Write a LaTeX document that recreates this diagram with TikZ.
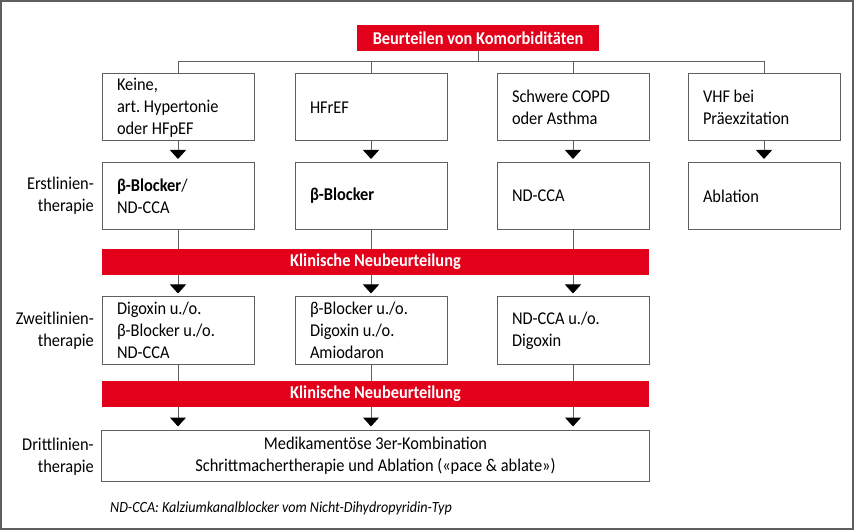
\documentclass[tikz,border=0pt]{standalone}
\usepackage{fontspec}
\setmainfont{Carlito}[FakeStretch=0.91]
\usetikzlibrary{arrows.meta}
\definecolor{klinred}{RGB}{226,0,26}
\definecolor{boxgray}{RGB}{95,95,95}
\frenchspacing

\begin{document}
\begin{tikzpicture}[x=1bp,y=-1bp,
    font=\fontsize{18bp}{22bp}\selectfont,
    every node/.style={execute at begin node={\spaceskip=0pt\xspaceskip=0pt\relax}},
    box/.style={draw=boxgray, line width=1bp, inner xsep=15bp, inner ysep=0pt,
        text width=122bp, minimum height=67bp, align=left},
    bar/.style={fill=klinred, text=white, inner sep=0pt, minimum height=26bp,
        font=\fontsize{18bp}{22bp}\selectfont\bfseries},
    link/.style={draw=boxgray, line width=1bp},
    tip/.style={link, -{Triangle[width=16bp,length=9bp,black]}, shorten >=3bp},
    rowlabel/.style={anchor=east, align=right, inner sep=0pt}]
    \useasboundingbox (0,0) rectangle (854,530);
    \draw[boxgray, line width=1.5bp] (1,1) rectangle (853,529);

    % Title
    \node[bar, minimum width=242bp] (title) at (478,38) {Beurteilen von Komorbiditäten};

    % Comorbidities
    \node[box] (r1a) at (178,107.5) {Keine,\\art. Hypertonie\\oder HFpEF};
    \node[box] (r1b) at (371,107.5) {HFrEF};
    \node[box] (r1c) at (573,107.5) {Schwere COPD\\oder Asthma};
    \node[box] (r1d) at (764,107.5) {VHF bei\\Präexzitation};

    % First line
    \node[box] (r2a) at (178,196) {\textbf{β-Blocker}/\\ND-CCA};
    \node[box] (r2b) at (371,196) {\textbf{β-Blocker}};
    \node[box] (r2c) at (573,196) {ND-CCA};
    \node[box] (r2d) at (764,196) {Ablation};
    \node[rowlabel] (lab1) at (94,196) {Erstlinien-\\therapie};

    \node[bar, minimum width=547bp] (bar1) at (375.5,262) {Klinische Neubeurteilung};

    % Second line
    \node[box] (r3a) at (178,330.5) {Digoxin u./o.\\β-Blocker u./o.\\ND-CCA};
    \node[box] (r3b) at (371,330.5) {β-Blocker u./o.\\Digoxin u./o.\\Amiodaron};
    \node[box] (r3c) at (573,330.5) {ND-CCA u./o.\\Digoxin};
    \node[rowlabel] (lab2) at (94,330.5) {Zweitlinien-\\therapie};

    \node[bar, minimum width=547bp] (bar2) at (375.5,394) {Klinische Neubeurteilung};

    % Third line
    \node[box, text width=517bp, minimum height=51bp, align=flush center] (r4) at (375.5,455.5)
        {Medikamentöse 3er-Kombination\\Schrittmachertherapie und Ablation («pace \& ablate»)};
    \node[rowlabel] (lab3) at (94,457) {Drittlinien-\\therapie};

    % Footnote
    \node[anchor=west, inner sep=0pt, font=\fontsize{15.5bp}{18bp}\selectfont\itshape] (note) at (110,508)
        {ND-CCA: Kalziumkanalblocker vom Nicht-Dihydropyridin-Typ};

    % Connectors
    \draw[link] (title.south) -- ++(0,11);
    \draw[link] (r1a.north) -- ++(0,-12) -| (r1d.north);
    \draw[link] (r1b.north) -- ++(0,-12);
    \draw[link] (r1c.north) -- ++(0,-12);
    \foreach \i in {a,b,c,d}
        \draw[tip] (r1\i) -- (r2\i);
    \foreach \i in {a,b,c} {
        \draw[link] (r2\i) -- (r2\i |- bar1.north);
        \draw[tip] (r2\i |- bar1.south) -- (r3\i);
        \draw[link] (r3\i) -- (r3\i |- bar2.north);
        \draw[tip] (r3\i |- bar2.south) -- (r3\i |- r4.north);
    }
\end{tikzpicture}
\end{document}
